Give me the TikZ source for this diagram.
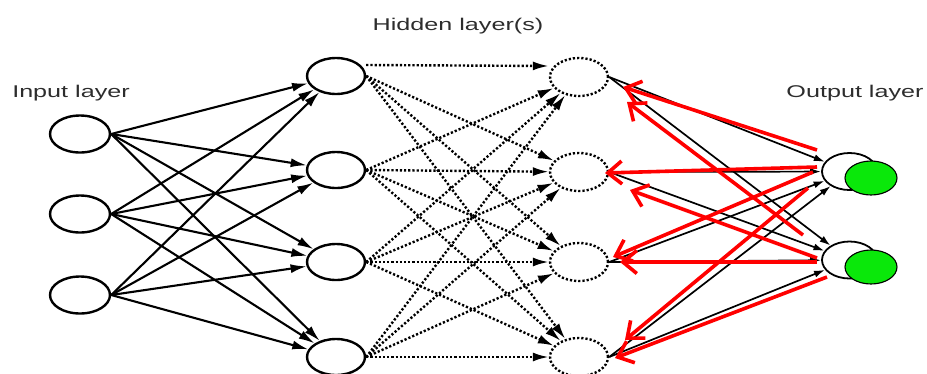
\documentclass[tikz,border=0pt]{standalone}
\usepackage{fontspec}
\setmainfont{Liberation Sans}
\usetikzlibrary{shapes.geometric,arrows.meta}
\definecolor{grn}{RGB}{10,232,10}
\definecolor{txt}{RGB}{45,45,45}
\begin{document}
\begin{tikzpicture}[x=1pt,y=-1pt,
 neuron/.style={ellipse,draw,line width=2.4pt,minimum width=60pt,minimum height=37pt,inner sep=0pt,fill=white},
 dneuron/.style={ellipse,draw,line width=2.4pt,dash pattern=on 2.2pt off 2pt,minimum width=58pt,minimum height=38pt,inner sep=0pt},
 outw/.style={ellipse,draw,line width=1.8pt,minimum width=55pt,minimum height=37pt,inner sep=0pt,fill=white},
 outg/.style={ellipse,draw,line width=1.1pt,fill=grn,minimum width=52pt,minimum height=34pt,inner sep=0pt},
 solidarr/.style={line width=2.1pt,-{Latex[length=16pt,width=9pt]}},
 dotarr/.style={line width=2.4pt,dash pattern=on 2.2pt off 2pt,-{Latex[length=16pt,width=9pt]}},
 outarr/.style={line width=1.7pt,-{Latex[length=11pt,width=7pt]}},
 redarr/.style={draw=red,line width=3.6pt,-{Straight Barb[length=14pt,width=23pt]}},
 lbl/.style={font=\fontsize{17}{20}\selectfont,text=txt,xscale=1.48,inner sep=0pt}]
\useasboundingbox (0,0) rectangle (927,373);

% labels
\node[lbl] (tin) at (71,93) {Input layer};
\node[lbl] (thid) at (458,26) {Hidden layer(s)};
\node[lbl] (tout) at (855,93) {Output layer};

% input layer
\node[neuron] (i1) at (80,134) {};
\node[neuron] (i2) at (80,214) {};
\node[neuron] (i3) at (80,295) {};

% hidden layer 1
\node[neuron,minimum width=58pt,minimum height=36pt] (ha) at (336,76) {};
\node[neuron,minimum width=58pt,minimum height=36pt] (hb) at (336,170) {};
\node[neuron,minimum width=58pt,minimum height=36pt] (hc) at (336,262) {};
\node[neuron,minimum width=58pt,minimum height=36pt] (hd) at (336,357) {};

% hidden layer 2
\node[dneuron] (ga) at (579,77) {};
\node[dneuron] (gb) at (579,172) {};
\node[dneuron] (gc) at (579,262) {};
\node[dneuron] (gd) at (579,357) {};

% input -> hidden 1
\foreach \s in {i1,i2,i3}{
  \foreach \t in {ha,hb,hc,hd}{
    \draw[solidarr] (\s.east) -- (\t);
  }
}

% hidden 1 -> hidden 2
\draw[dotarr] ([yshift=11pt]ha.east) -- ([yshift=11pt]ga.west);
\foreach \t in {gb,gc,gd}{ \draw[dotarr] (ha.east) -- (\t); }
\foreach \s in {hb,hc,hd}{
  \foreach \t in {ga,gb,gc,gd}{
    \draw[dotarr] (\s.east) -- (\t);
  }
}

% output layer
\node[outw] (o1) at (849.5,171.5) {};
\node[outg] (g1) at (871,178) {};
\node[outw] (o2) at (849.5,260) {};
\node[outg] (g2) at (871,267) {};

% hidden 2 -> output
\foreach \s in {ga,gb,gc,gd}{
  \draw[outarr] (\s.east) -- (o1);
  \draw[outarr] (\s.east) -- (o2);
}

% back-propagation (red)
\coordinate (r1s) at (817,150); \coordinate (r1e) at (623,87);
\coordinate (r2s) at (803,235); \coordinate (r2e) at (627,102);
\coordinate (r3s) at (817,167); \coordinate (r3e) at (605,173);
\coordinate (r4s) at (817,258); \coordinate (r4e) at (630,190);
\coordinate (r5s) at (813,172); \coordinate (r5e) at (613,257);
\coordinate (r6s) at (817,262); \coordinate (r6e) at (620,262);
\coordinate (r7s) at (808,188); \coordinate (r7e) at (625,340);
\coordinate (r8s) at (827,277); \coordinate (r8e) at (615,358);
\foreach \k in {1,...,8}{
  \draw[redarr] (r\k s) -- (r\k e);
}
\end{tikzpicture}
\end{document}
